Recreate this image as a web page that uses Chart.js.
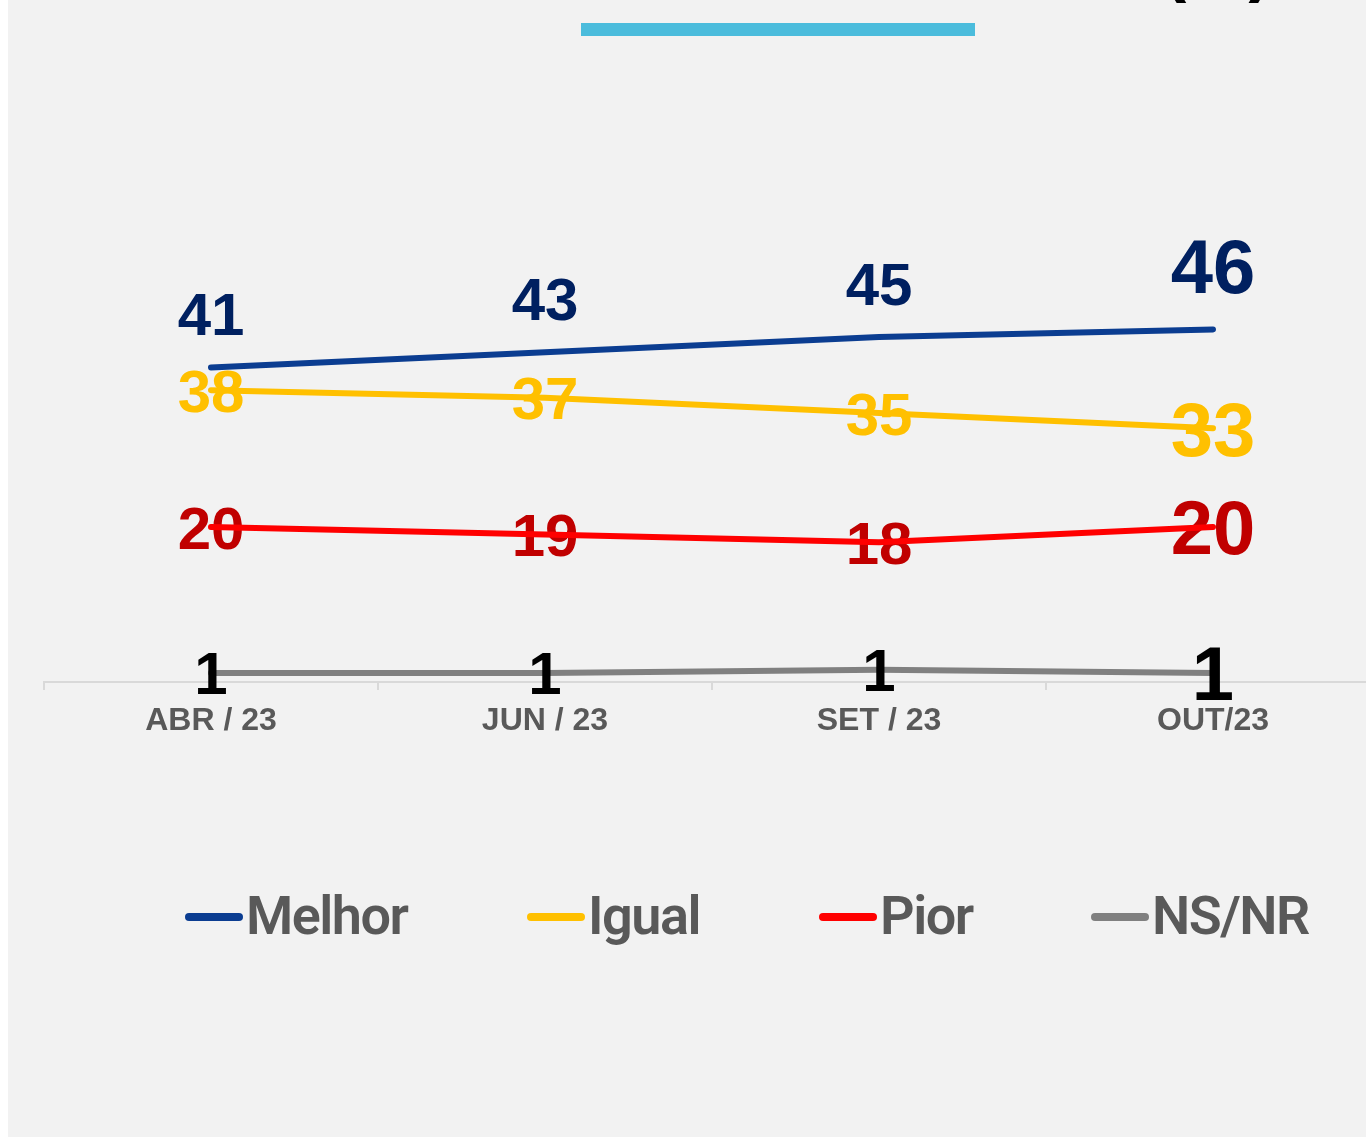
<!DOCTYPE html>
<html lang="pt">
<head>
<meta charset="utf-8">
<script src="https://cdn.jsdelivr.net/npm/chart.js@4.4.0/dist/chart.umd.min.js"></script>
<style>
  html, body { margin: 0; padding: 0; background: #fff; width: 1366px; height: 1138px; overflow: hidden; }
  #bg { position: absolute; left: 8px; top: 0; width: 1358px; height: 1137px; background: #f2f2f2; }
  #bar { position: absolute; left: 581px; top: 23px; width: 394px; height: 13px; background: #4bbcdc; }
  #pct { position: absolute; left: 1163px; top: -71px; font: bold 70px/70px "Liberation Sans", Arial, sans-serif; color: #000; white-space: nowrap; }
  #chart { position: absolute; left: 0; top: 0; }
  .leg { position: absolute; top: 888px; height: 56px; font: 600 54px/56px Roboto, sans-serif; color: #595959; letter-spacing: -1.5px; white-space: nowrap; }
  .leg i { position: absolute; left: -61px; top: 25px; width: 58px; height: 8px; border-radius: 4px; }
</style>
</head>
<body>
<div id="bg"></div>
<div id="bar"></div>
<div id="pct">(%)</div>
<canvas id="chart" width="1400" height="800"></canvas>
<div id="legend"></div>
<script>
const categories = ['ABR / 23', 'JUN / 23', 'SET / 23', 'OUT/23']
const seriesNames = ['Melhor', 'Igual', 'Pior', 'NS/NR']
const melhor = [41, 43, 45, 46]
const igual = [38, 37, 35, 33]
const pior = [20, 19, 18, 20]
const nsnr = [0.8, 0.8, 1.2, 0.8]

const lineColors = ['#0b3d91', '#ffc000', '#ff0000', '#808080']
const labelColors = ['#002060', '#ffc000', '#c00000', '#000000']
const legendLeft = [246, 588, 880, 1152]

// numbers on the points; Melhor sits above its line, the rest are centred on it
const drawLabels = (chart, which) => {
    const ctx = chart.ctx
    chart.data.datasets.forEach((ds, i) => {
        if(!which.includes(i)) return
        chart.getDatasetMeta(i).data.forEach((pt, j) => {
            const last = j == ds.data.length - 1
            const size = last ? 76 : 60
            const dy = i == 0 ? -(last ? 36 : 32) : size * 0.36
            ctx.save()
            ctx.font = `bold ${size}px "Liberation Sans", Arial, sans-serif`
            ctx.fillStyle = labelColors[i]
            ctx.textAlign = 'center'
            ctx.textBaseline = 'alphabetic'
            ctx.fillText(Math.round(ds.data[j]), pt.x, pt.y + dy)
            ctx.restore()
        })
    })
}

const valueLabels = {
    id: 'valueLabels',
    beforeDatasetsDraw: chart => drawLabels(chart, [1, 2]),
    afterDatasetsDraw: chart => drawLabels(chart, [0, 3])
}

const makeLine = (label, data, i) => ({
    label,
    data,
    borderColor: lineColors[i],
    borderWidth: 6,
    borderCapStyle: 'round',
    borderJoinStyle: 'round',
    pointRadius: 0,
    tension: 0,
    fill: false
})

new Chart(document.getElementById('chart'), {
    type: 'line',
    data: {
        labels: categories,
        datasets: [
            makeLine(seriesNames[0], melhor, 0),
            makeLine(seriesNames[1], igual, 1),
            makeLine(seriesNames[2], pior, 2),
            makeLine(seriesNames[3], nsnr, 3)
        ]
    },
    options: {
        responsive: false,
        animation: false,
        layout: { padding: { left: 44, right: 20, top: 299, bottom: 0 } },
        plugins: { legend: { display: false }, tooltip: { enabled: false } },
        scales: {
            x: {
                offset: true,
                afterFit: s => { s.height = 118 },
                border: { display: true, color: '#d9d9d9', width: 2 },
                grid: { display: true, offset: true, drawOnChartArea: false, drawTicks: true, tickLength: 8, color: '#d9d9d9', lineWidth: 2 },
                ticks: {
                    color: '#595959',
                    padding: 12,
                    font: { family: '"Liberation Sans", Arial, sans-serif', size: 32, weight: 'bold' }
                }
            },
            y: { display: false, min: -0.4, max: 50 }
        }
    },
    plugins: [valueLabels]
})

const legend = document.getElementById('legend')
seriesNames.forEach((name, i) => {
    const item = document.createElement('div')
    item.className = 'leg'
    item.style.left = legendLeft[i] + 'px'
    item.innerHTML = `<i style="background:${lineColors[i]}"></i>${name}`
    legend.appendChild(item)
})
</script>
</body>
</html>
